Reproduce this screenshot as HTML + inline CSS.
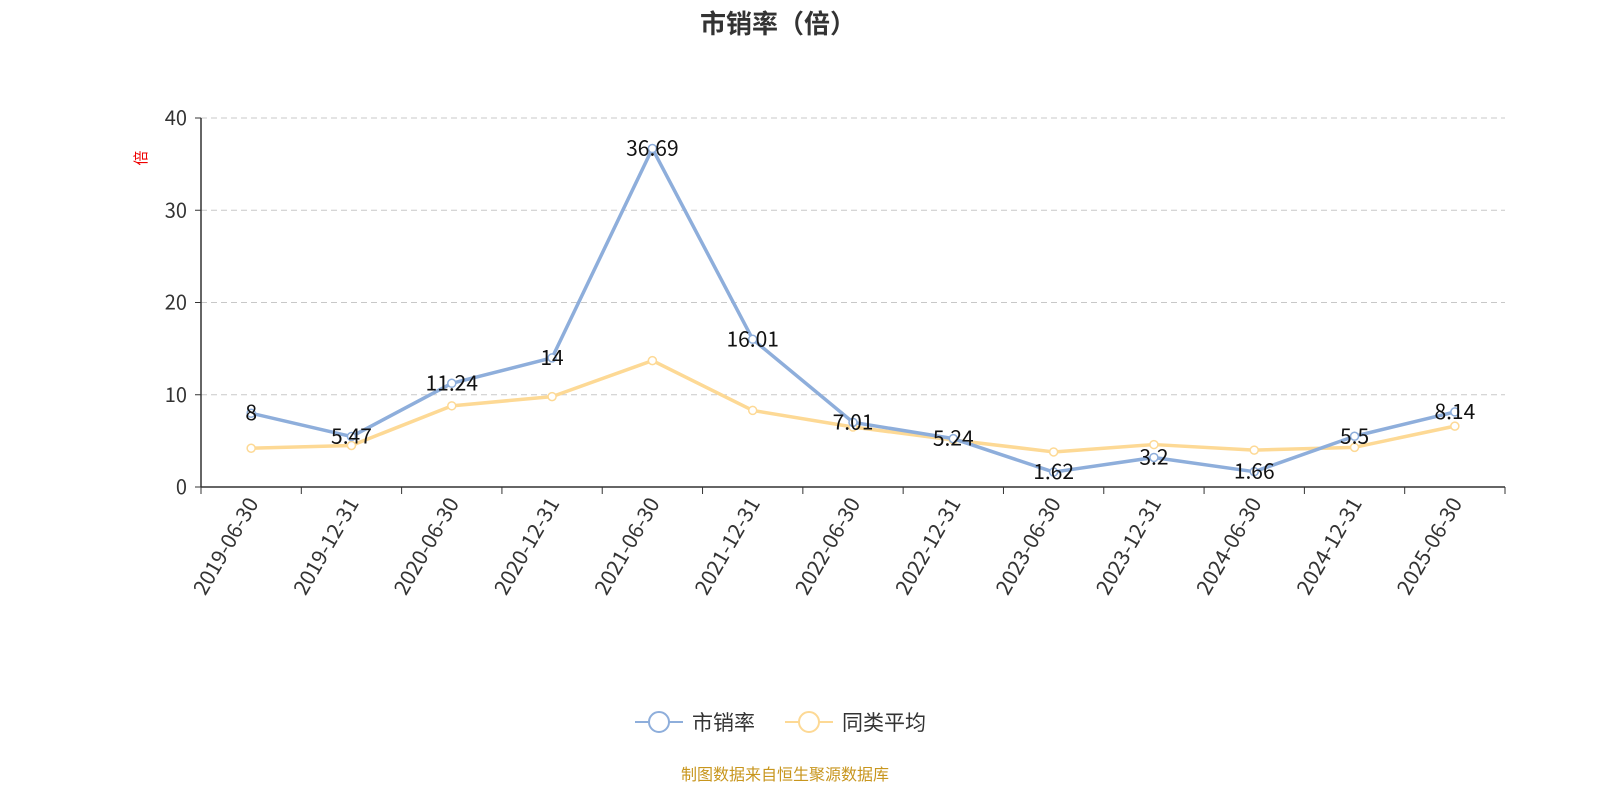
<!DOCTYPE html>
<html><head><meta charset="utf-8"><style>
body{margin:0;background:#fff;}
svg text{font-family:"Noto Sans CJK SC","Liberation Sans",sans-serif;}
</style></head><body>
<svg id="chart" width="1600" height="800" xmlns="http://www.w3.org/2000/svg">
<text x="778" y="33" text-anchor="middle" font-size="26" font-weight="bold" fill="#333">市销率（倍）</text>
<text transform="translate(146,158) rotate(-90)" text-anchor="middle" font-size="15" fill="#e00">倍</text>
<g id="grid"></g><g id="axes"></g><g id="series"></g>
<g>
<g>
<line x1="635" y1="722" x2="683" y2="722" stroke="#8eaedb" stroke-width="2"/>
<circle cx="659" cy="722" r="10" fill="#fff" stroke="#8eaedb" stroke-width="2"/>
<text x="692" y="730" font-size="21" fill="#333">市销率</text></g>
<g>
<line x1="785" y1="722" x2="833" y2="722" stroke="#fdd995" stroke-width="2"/>
<circle cx="809" cy="722" r="10" fill="#fff" stroke="#fdd995" stroke-width="2"/>
<text x="842" y="730" font-size="21" fill="#333">同类平均</text></g>
</g>
<text x="785" y="780" text-anchor="middle" font-size="16" fill="#c8961e">制图数据来自恒生聚源数据库</text>
</svg>
<script>
const categories=["2019-06-30","2019-12-31","2020-06-30","2020-12-31","2021-06-30","2021-12-31","2022-06-30","2022-12-31","2023-06-30","2023-12-31","2024-06-30","2024-12-31","2025-06-30"];
const psrValues=[8,5.47,11.24,14,36.69,16.01,7.01,5.24,1.62,3.2,1.66,5.5,8.14];
const avgValues=[4.2,4.5,8.8,9.8,13.7,8.3,6.5,5.1,3.8,4.6,4.0,4.3,6.6];
const yTicks=[0,10,20,30,40];
const NS="http://www.w3.org/2000/svg";
const x0=201,x1=1505,y0=487,y1=118,yMax=40;
const band=(x1-x0)/categories.length;
const xS=i=>x0+band*(i+0.5);
const yS=v=>y0-(v/yMax)*(y0-y1);
function mk(tag,attrs,parent){const e=document.createElementNS(NS,tag);for(const k in attrs)e.setAttribute(k,attrs[k]);parent.appendChild(e);return e;}
const grid=document.getElementById('grid'),axes=document.getElementById('axes'),series=document.getElementById('series');
yTicks.forEach(t=>{
 if(t>0){const g=mk('line',{x1:x0,x2:x1,y1:yS(t),y2:yS(t),stroke:'#c8c8c8','stroke-dasharray':'6,4'},grid);
 
 }
 const tl=mk('line',{x1:x0-6,x2:x0,y1:yS(t),y2:yS(t),stroke:'#333'},axes);
 
 
 const tx=mk('text',{x:x0-14,y:yS(t)+7,'text-anchor':'end','font-size':20,fill:'#333'},axes);
 tx.textContent=t;
 
 
});
const ya=mk('line',{x1:x0,x2:x0,y1:y1,y2:y0,stroke:'#333','stroke-width':1.5},axes);


const xa=mk('line',{x1:x0,x2:x1,y1:y0,y2:y0,stroke:'#333','stroke-width':1.5},axes);


for(let i=0;i<=categories.length;i++){
 const t=mk('line',{x1:x0+band*i,x2:x0+band*i,y1:y0,y2:y0+7,stroke:'#333'},axes);
 
 
}
categories.forEach((c,i)=>{
 const t=mk('text',{transform:`translate(${xS(i)+8},${y0+16}) rotate(-60)`,'text-anchor':'end','font-size':21,fill:'#333'},axes);
 t.textContent=c;
 
 
});
function drawSeries(vals,color,name){
 const p=mk('polyline',{points:vals.map((v,i)=>xS(i)+','+yS(v)).join(' '),fill:'none',stroke:color,'stroke-width':3.5,'stroke-linejoin':'round'},series);
 
 
 vals.forEach((v,i)=>{
  const c=mk('circle',{cx:xS(i),cy:yS(v),r:4,fill:'#fff',stroke:color,'stroke-width':1.5},series);
  
  
 });
}
drawSeries(avgValues,'#fdd995','avg');
drawSeries(psrValues,'#8eaedb','psr');
psrValues.forEach((v,i)=>{
 const t=mk('text',{x:xS(i),y:yS(v)+7,'text-anchor':'middle','font-size':21,fill:'#111'},series);
 t.textContent=v;
 
 
});
</script>
</body></html>
